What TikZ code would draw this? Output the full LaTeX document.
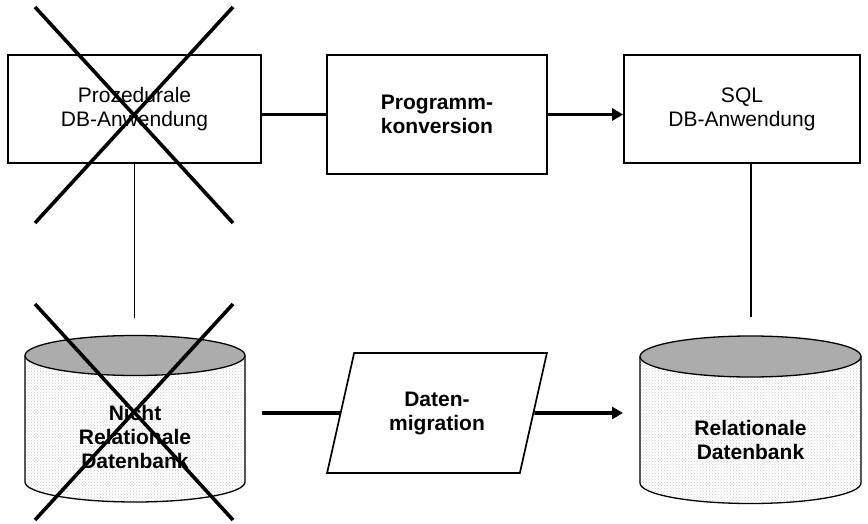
\documentclass[tikz,border=0pt]{standalone}
\usepackage{fontspec}
\setmainfont{Liberation Sans}
\usetikzlibrary{arrows.meta,shapes.geometric,patterns}
\begin{document}
\begin{tikzpicture}[x=1pt,y=1pt,
  box/.style={draw,line width=1.7pt,inner sep=0pt,align=center,font=\fontsize{21}{24}\selectfont},
  lbl/.style={inner sep=0pt,align=center,font=\fontsize{21}{24}\selectfont\bfseries},
  thickline/.style={line width=3.6pt},
  thinline/.style={line width=1.7pt},
  arr/.style={line width=3.6pt,-{Triangle[length=11pt,width=12pt]}},
  cross/.style={line width=3.6pt},
  topfill/.style={fill=gray!65,draw,line width=1.3pt},
  bodyfill/.style={pattern=crosshatch dots,pattern color=gray!40}
]
\useasboundingbox (0,0) rectangle (868,523);
% top row
\node[box,minimum width=253pt,minimum height=108pt] (A) at (134.5,414) {Prozedurale\\DB-Anwendung};
\node[box,minimum width=220pt,minimum height=119pt,font=\fontsize{21}{24}\selectfont\bfseries] (B) at (437,408.5) {Programm-\\konversion};
\node[box,minimum width=236pt,minimum height=108pt] (C) at (742,414) {SQL\\DB-Anwendung};
\draw[thickline] (A.east |- B.west) -- (B.west);
\draw[arr] (B.east) -- (C.west |- B.east);
% vertical connectors
\coordinate (abot) at (134.5,205);
\coordinate (cbot) at (751,206);
\draw[thinline] (A.south) -- (abot);
\draw[thinline] (C.south -| cbot) -- (cbot);
% cylinder 1
\fill[white] (25,167.5) -- (25,41) arc[start angle=180,end angle=360,x radius=110,y radius=20] -- (245,167.5) -- cycle;
\fill[bodyfill] (25,167.5) -- (25,41) arc[start angle=180,end angle=360,x radius=110,y radius=20] -- (245,167.5) -- cycle;
\draw[line width=1.3pt] (25,167.5) -- (25,41) arc[start angle=180,end angle=360,x radius=110,y radius=20] -- (245,167.5);
\draw[topfill] (135,167.5) ellipse[x radius=110,y radius=20];
\node[lbl] (D1) at (135,86) {Nicht\\Relationale\\Datenbank};
% cylinder 2
\fill[white] (640,166.5) -- (640,40) arc[start angle=180,end angle=360,x radius=110.5,y radius=20.5] -- (861,166.5) -- cycle;
\fill[bodyfill] (640,166.5) -- (640,40) arc[start angle=180,end angle=360,x radius=110.5,y radius=20.5] -- (861,166.5) -- cycle;
\draw[line width=1.3pt] (640,166.5) -- (640,40) arc[start angle=180,end angle=360,x radius=110.5,y radius=20.5] -- (861,166.5);
\draw[topfill] (750.5,166.5) ellipse[x radius=110.5,y radius=20.5];
\node[lbl] (D2) at (750.5,83) {Relationale\\Datenbank};
% parallelogram
\node[trapezium,draw,line width=1.7pt,trapezium left angle=70,trapezium right angle=110,trapezium stretches=true,minimum width=220pt,minimum height=120pt,inner sep=0pt,align=center,font=\fontsize{21}{24}\selectfont\bfseries] (P) at (437,110) {Daten-\\migration};
\coordinate (m1) at (262,110);
\coordinate (m2) at (623,110);
\draw[thickline] (m1) -- (P.west);
\draw[arr] (P.east) -- (m2);
% crosses
\draw[cross] (35,516) -- (233,300);
\draw[cross] (233,516) -- (35,300);
\draw[cross] (35,219) -- (233,3);
\draw[cross] (233,219) -- (35,3);
\end{tikzpicture}
\end{document}
